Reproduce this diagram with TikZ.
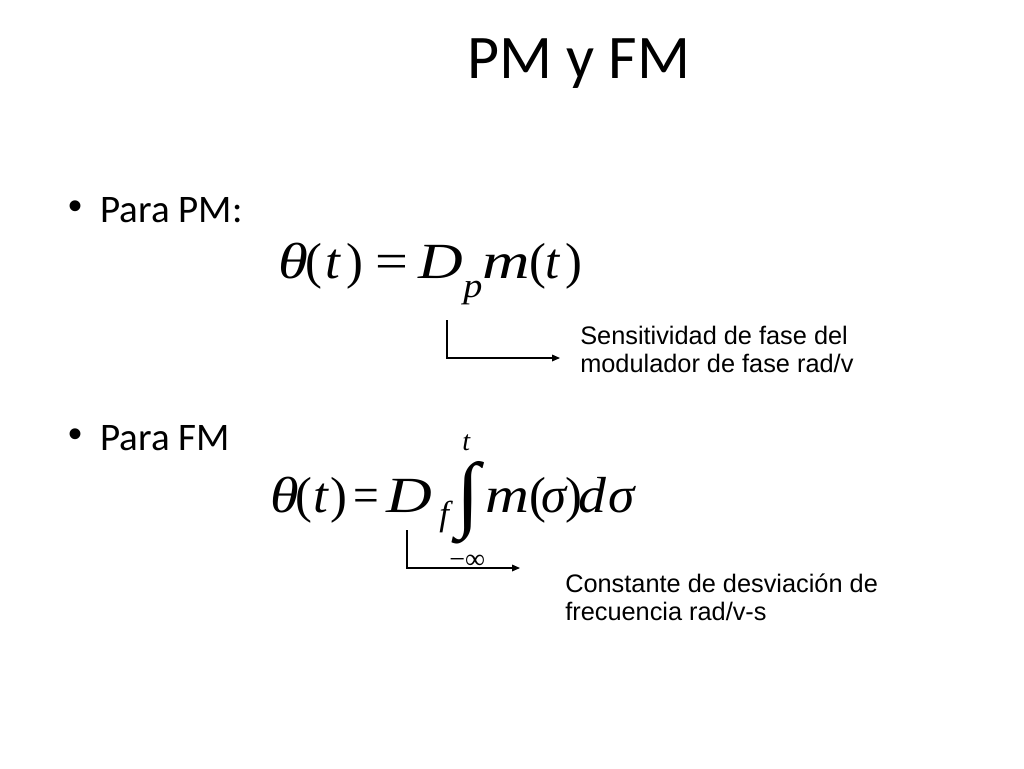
\documentclass[tikz,border=0pt]{standalone}
\usepackage{fontspec}
\setmainfont{Liberation Serif}
\newfontfamily\titlefont{Carlito}
\newfontfamily\labelfont{Liberation Sans}
\newfontfamily\eqfont{Liberation Serif}
\usetikzlibrary{arrows.meta}
\newcommand\sx[2][1.2]{\scalebox{#1}[1]{#2}}
\begin{document}
\begin{tikzpicture}[x=0.75pt,y=-0.75pt,
  title/.style={inner sep=0pt,anchor=base,font=\titlefont\fontsize{46.5}{50}\selectfont},
  bulletmark/.style={inner sep=0pt,font=\labelfont\fontsize{30}{32}\selectfont},
  bullettext/.style={inner sep=0pt,anchor=base west,font=\titlefont\fontsize{29.25}{32}\selectfont},
  eqtext/.style={inner sep=0pt,anchor=base west,font=\eqfont\fontsize{38}{40}\selectfont},
  eqit/.style={eqtext,font=\eqfont\itshape\fontsize{38}{40}\selectfont},
  subtext/.style={inner sep=0pt,anchor=base west,font=\eqfont\itshape\fontsize{26}{28}\selectfont},
  limtext/.style={inner sep=0pt,anchor=base west,font=\eqfont\fontsize{21}{23}\selectfont},
  note/.style={inner sep=0pt,anchor=base west,align=left,font=\labelfont\fontsize{19}{21}\selectfont},
  pointer/.style={draw=black,line width=0.9pt,-{Triangle[length=6pt,width=5pt]}}]
\useasboundingbox (0,0) rectangle (1024,768);
\fill[white] (0,0) rectangle (1024,768);
\node[title] (title) at (579,78) {PM y FM};
\node[bulletmark] (b1) at (76,210) {•};
\node[bullettext] (t1) at (100,222) {Para PM:};
\node[bulletmark] (b2) at (76,438) {•};
\node[bullettext] (t2) at (100,450) {Para FM};
% PM equation
\node[eqit]   (p1) at (278,278) {\sx{θ}};
\node[eqtext] (p2) at (305,278) {(};
\node[eqit]   (p3) at (325,278) {\sx[1.05]{t}};
\node[eqtext] (p4) at (346,278) {)};
\node[eqtext] (p5) at (375,278) {\sx[1.15]{=}};
\node[eqit]   (p6) at (418,278) {\sx[1.22]{D}};
\node[subtext] (p7) at (463,297) {\sx[1.1]{p}};
\node[eqit]   (p8) at (482,278) {\sx[1.3]{m}};
\node[eqtext] (p9) at (529,278) {(};
\node[eqit]   (p10) at (545,278) {t};
\node[eqtext] (p11) at (565,278) {)};
% FM equation
\node[eqit]   (f1) at (270,512) {\sx[1.15]{θ}};
\node[eqtext] (f2) at (295,512) {(};
\node[eqit]   (f3) at (313,512) {\sx[1.05]{t}};
\node[eqtext] (f4) at (330,512) {)};
\node[eqtext] (f5) at (353,512) {\sx[0.9]{=}};
\node[eqit]   (f6) at (386,512) {\sx[1.25]{D}};
\node[subtext] (f7) at (439,525) {f};
\node[inner sep=0pt,font=\eqfont\fontsize{38}{40}\selectfont] (int) at (468,503) {\scalebox{1.7}[1.66]{∫}};
\node[limtext,font=\eqfont\itshape\fontsize{21}{23}\selectfont] (up) at (462,450) {t};
\node[limtext] (low) at (449,568) {−∞};
\node[eqit]   (f8) at (485,512) {\sx{m}};
\node[eqtext] (f9) at (529,512) {(};
\node[eqit]   (f10) at (541,512) {σ};
\node[eqtext] (f11) at (565,512) {)};
\node[eqit]   (f12) at (578,512) {\sx[1.1]{d}};
\node[eqit]   (f13) at (608,512) {\sx[1.05]{σ}};
% notes
\node[note] (n1) at (580,372) {Sensitividad de fase del\\modulador de fase rad/v};
\node[note] (n2) at (565,620) {Constante de desviación de\\frecuencia rad/v-s};
\coordinate (s1) at (447,320);
\coordinate (c1) at (447,358);
\coordinate (e1) at (560,358);
\coordinate (s2) at (407,530);
\coordinate (c2) at (407,568);
\coordinate (e2) at (520,568);
\draw[pointer] (s1) -- (c1) -- (e1);
\draw[pointer] (s2) -- (c2) -- (e2);
\end{tikzpicture}
\end{document}
